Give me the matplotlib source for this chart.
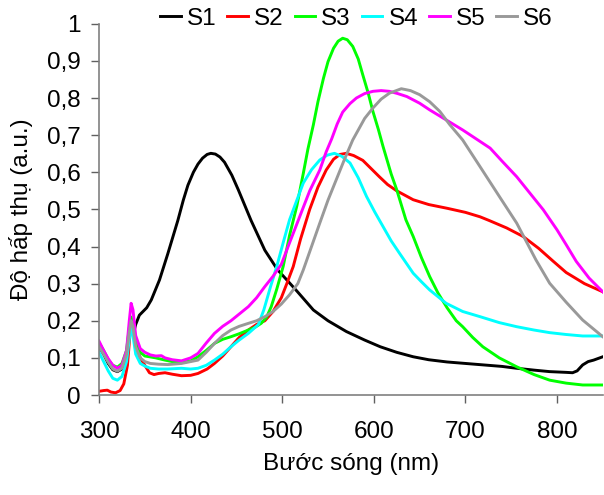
import matplotlib
matplotlib.use("Agg")
import matplotlib.pyplot as plt

plt.rcParams['font.family'] = ['Liberation Sans', 'DejaVu Sans']

# absorption spectra (wavelength nm, absorbance a.u.)
s1_wl = [300, 305, 310, 315, 320, 325, 330, 334, 336, 338, 340, 344, 348, 352, 357, 366, 375, 386, 392,
         397, 403, 408, 413, 418, 422, 427, 432, 437, 445, 452, 466, 481, 495, 505, 516, 534, 550, 570,
         590, 607, 625, 643, 660, 680, 700, 720, 740, 756, 775, 792, 810, 817, 822, 828, 834, 840, 850]
s1_abs = [0.13, 0.11, 0.085, 0.068, 0.063, 0.07, 0.11, 0.18, 0.19, 0.17, 0.19, 0.215, 0.225, 0.235, 0.256,
          0.31, 0.38, 0.47, 0.525, 0.565, 0.6, 0.622, 0.638, 0.648, 0.651, 0.649, 0.641, 0.627, 0.592,
          0.553, 0.47, 0.39, 0.337, 0.31, 0.28, 0.229, 0.2, 0.171, 0.148, 0.13, 0.115, 0.103, 0.095,
          0.089, 0.085, 0.081, 0.077, 0.072, 0.067, 0.063, 0.061, 0.06, 0.065, 0.081, 0.09, 0.094, 0.103]

s2_wl = [300, 305, 309, 313, 318, 323, 327, 331, 334, 336, 338, 341, 345, 350, 355, 360, 365, 372, 380,
         390, 400, 408, 418, 426, 435, 444, 453, 463, 472, 481, 490, 499, 505, 512, 520, 530, 539, 548,
         556, 563, 570, 578, 588, 597, 606, 615, 625, 643, 660, 680, 700, 716, 726, 745, 763, 780, 796,
         810, 830, 850]
s2_abs = [0.01, 0.012, 0.013, 0.008, 0.006, 0.012, 0.03, 0.08, 0.17, 0.2, 0.17, 0.13, 0.1, 0.08, 0.06,
          0.055, 0.058, 0.06, 0.056, 0.052, 0.053, 0.058, 0.07, 0.085, 0.105, 0.13, 0.155, 0.175, 0.19,
          0.2, 0.225, 0.262, 0.3, 0.346, 0.42, 0.5, 0.56, 0.606, 0.635, 0.648, 0.651, 0.645, 0.632, 0.61,
          0.588, 0.567, 0.55, 0.526, 0.513, 0.503, 0.492, 0.48, 0.47, 0.45, 0.427, 0.395, 0.36, 0.33,
          0.3, 0.278]

s3_wl = [300, 305, 310, 315, 320, 325, 330, 333, 335, 337, 340, 345, 350, 355, 362, 372, 380, 390, 400,
         408, 417, 426, 435, 444, 453, 463, 470, 477, 483, 488, 494, 501, 508, 516, 523, 528, 534, 539,
         545, 550, 556, 561, 566, 571, 577, 583, 588, 594, 599, 605, 610, 619, 625, 635, 643, 652, 661,
         670, 680, 690, 697, 708, 719, 737, 756, 775, 792, 810, 828, 850]
s3_abs = [0.14, 0.12, 0.095, 0.08, 0.075, 0.085, 0.12, 0.18, 0.21, 0.19, 0.14, 0.115, 0.105, 0.103, 0.1,
          0.094, 0.09, 0.087, 0.092, 0.103, 0.12, 0.139, 0.15, 0.157, 0.165, 0.175, 0.182, 0.193, 0.21,
          0.238, 0.285, 0.346, 0.43, 0.51, 0.597, 0.662, 0.728, 0.79, 0.853, 0.898, 0.934, 0.953, 0.961,
          0.957, 0.939, 0.905, 0.862, 0.812, 0.764, 0.715, 0.67, 0.595, 0.553, 0.472, 0.427, 0.37, 0.319,
          0.275, 0.235, 0.2, 0.184, 0.155, 0.13, 0.1, 0.076, 0.055, 0.04, 0.032, 0.027, 0.027]

s4_wl = [300, 305, 310, 315, 320, 325, 330, 333, 335, 337, 340, 345, 350, 356, 365, 375, 390, 400, 408,
         417, 426, 435, 444, 453, 463, 474, 480, 487, 494, 501, 508, 516, 523, 532, 541, 549, 557, 565,
         574, 583, 592, 601, 610, 619, 628, 643, 652, 661, 670, 679, 697, 716, 737, 756, 775, 792, 810,
         828, 850]
s4_abs = [0.115, 0.09, 0.065, 0.045, 0.04, 0.05, 0.09, 0.15, 0.184, 0.16, 0.11, 0.085, 0.078, 0.072, 0.07,
          0.07, 0.072, 0.07, 0.072, 0.08, 0.094, 0.11, 0.13, 0.148, 0.166, 0.19, 0.23, 0.29, 0.346, 0.41,
          0.472, 0.525, 0.571, 0.607, 0.633, 0.646, 0.651, 0.643, 0.625, 0.585, 0.535, 0.493, 0.454,
          0.415, 0.382, 0.328, 0.305, 0.283, 0.265, 0.247, 0.225, 0.211, 0.195, 0.184, 0.175, 0.168,
          0.163, 0.159, 0.159]

s5_wl = [300, 305, 310, 315, 320, 325, 330, 333, 335, 337, 340, 345, 350, 356, 362, 368, 372, 380, 390,
         400, 408, 417, 426, 435, 444, 453, 463, 472, 481, 490, 499, 508, 519, 530, 541, 548, 554, 560,
         566, 574, 581, 590, 599, 608, 617, 626, 636, 650, 661, 679, 697, 716, 727, 740, 756, 770, 785,
         800, 810, 821, 835, 850]
s5_abs = [0.145, 0.12, 0.098, 0.08, 0.072, 0.08, 0.12, 0.2, 0.247, 0.23, 0.16, 0.125, 0.115, 0.108, 0.105,
          0.106, 0.1, 0.095, 0.092, 0.1, 0.112, 0.14, 0.166, 0.185, 0.2, 0.218, 0.238, 0.262, 0.292, 0.32,
          0.352, 0.41, 0.48, 0.55, 0.606, 0.655, 0.69, 0.73, 0.762, 0.785, 0.8, 0.812, 0.818, 0.82, 0.818,
          0.812, 0.804, 0.786, 0.768, 0.741, 0.714, 0.683, 0.665, 0.63, 0.588, 0.545, 0.499, 0.445,
          0.405, 0.36, 0.315, 0.278]

s6_wl = [300, 305, 310, 315, 320, 325, 330, 333, 335, 337, 340, 345, 350, 356, 365, 375, 390, 400, 408,
         417, 426, 435, 444, 453, 463, 472, 481, 490, 499, 508, 517, 523, 532, 541, 550, 559, 568, 577,
         590, 599, 608, 617, 630, 640, 650, 661, 672, 683, 697, 716, 737, 756, 777, 792, 810, 828, 850]
s6_abs = [0.13, 0.11, 0.088, 0.07, 0.064, 0.072, 0.11, 0.17, 0.2, 0.185, 0.13, 0.1, 0.09, 0.085, 0.083,
          0.082, 0.085, 0.09, 0.094, 0.115, 0.139, 0.16, 0.175, 0.185, 0.193, 0.2, 0.211, 0.225, 0.245,
          0.27, 0.3, 0.337, 0.4, 0.463, 0.525, 0.58, 0.635, 0.687, 0.745, 0.773, 0.797, 0.813, 0.825,
          0.82, 0.809, 0.79, 0.764, 0.728, 0.687, 0.615, 0.535, 0.463, 0.364, 0.301, 0.25, 0.202, 0.157]

series = [('S1', s1_wl, s1_abs, 'black'),
          ('S2', s2_wl, s2_abs, '#ff0000'),
          ('S3', s3_wl, s3_abs, '#00ff00'),
          ('S4', s4_wl, s4_abs, '#00ffff'),
          ('S5', s5_wl, s5_abs, '#ff00ff'),
          ('S6', s6_wl, s6_abs, '#999999')]

fig = plt.figure(figsize=(6.04, 4.95), dpi=100)
ax = fig.add_axes([0.164, 0.202, 0.834, 0.750])

for name, wl, ab, col in series:
    ax.plot(wl, ab, color=col, lw=2.1, label=name)

ax.set_xlim(300, 850)
ax.set_ylim(0, 1)
ax.set_xticks([300, 400, 500, 600, 700, 800])
ax.set_yticks([i / 10 for i in range(11)])
ax.set_yticklabels(['0', '0,1', '0,2', '0,3', '0,4', '0,5', '0,6', '0,7', '0,8', '0,9', '1'])

for side in ['top', 'right']:
    ax.spines[side].set_visible(False)
for side in ['left', 'bottom']:
    ax.spines[side].set_color('#808080')
    ax.spines[side].set_linewidth(1.2)

ax.tick_params(axis='both', direction='out', length=6, width=1, color='#606060', labelsize=17.5)
ax.tick_params(axis='y', pad=7)
ax.tick_params(axis='x', pad=13)

ax.set_xlabel('Bước sóng (nm)', fontsize=17.5, labelpad=7)
ax.set_ylabel('Độ hấp thụ (a.u.)', fontsize=17.5)
ax.yaxis.set_label_coords(-0.131, 0.5)

fig.legend(loc='center', bbox_to_anchor=(0.59, 0.962), ncol=6, frameon=False, fontsize=17.5,
           handlelength=0.85, handletextpad=0.25, columnspacing=0.45, borderaxespad=0)

fig.savefig('out.png', dpi=100)
